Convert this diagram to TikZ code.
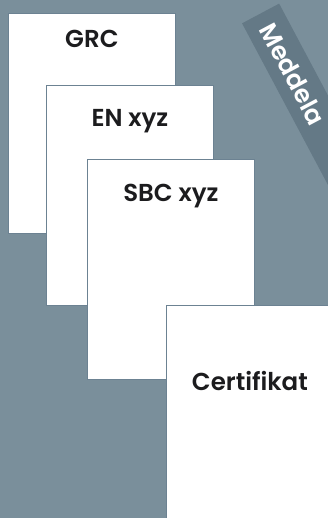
\documentclass[tikz,border=0pt]{standalone}
\usepackage{fontspec}
\setmainfont{Poppins}[BoldFont={Poppins SemiBold}]
\definecolor{bgblue}{HTML}{7A8F9B}
\definecolor{bandblue}{HTML}{647986}
\definecolor{edgeblue}{HTML}{6C8292}
\definecolor{inkblack}{HTML}{1C1C1E}
\begin{document}
\begin{tikzpicture}[x=1pt, y=-1pt,
  page/.style={draw=edgeblue, line width=0.8pt, fill=white, minimum width=167pt, minimum height=220pt, anchor=north west, inner sep=0pt},
  pagetitle/.style={text=inkblack, font=\fontsize{24.5}{28}\selectfont\bfseries, inner sep=0pt, anchor=base},
  banner/.style={fill=bandblue, text=white, font=\fontsize{25}{28}\selectfont\bfseries, minimum height=42pt, text width=240pt, inner xsep=13pt, inner ysep=0pt, align=left, rotate=-62, anchor=west}]
\useasboundingbox (0,0) rectangle (328,518);
\clip (0,0) rectangle (328,518);
\fill[bgblue] (0,0) rectangle (328,518);
\node[banner] (meddela) at (260.5,13.3) {Meddela};
\node[page] (grc) at (8,13) {};
\node[pagetitle] (grctitle) at ([yshift=-35pt]grc.north) {GRC};
\node[page] (en) at (46,85) {};
\node[pagetitle] (entitle) at ([yshift=-41.5pt]en.north) {EN xyz};
\node[page] (sbc) at (87,159) {};
\node[pagetitle] (sbctitle) at ([yshift=-42.7pt]sbc.north) {SBC xyz};
\node[page] (cert) at (166,305) {};
\node[pagetitle] (certtitle) at ([yshift=-85.7pt]cert.north) {Certifikat};
\end{tikzpicture}
\end{document}
